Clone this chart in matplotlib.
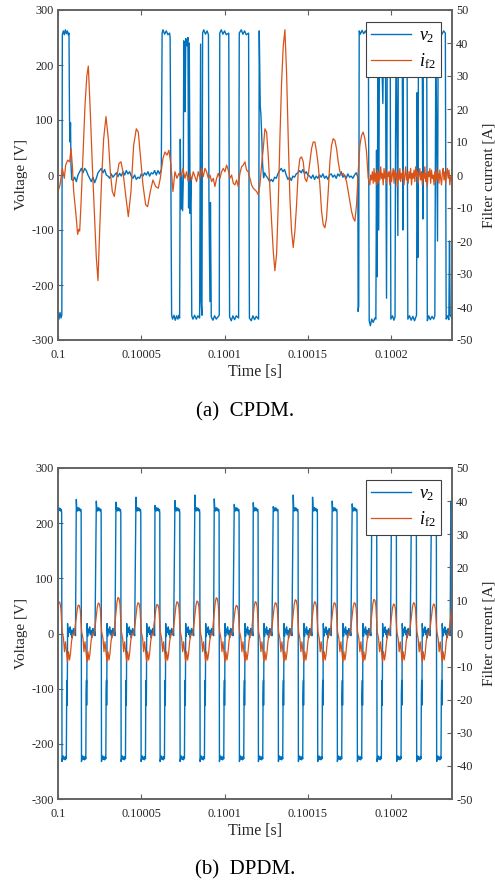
"""Filter voltage v2 and filter current if2 under CPDM and DPDM modulation."""
import matplotlib
matplotlib.use("Agg")
import matplotlib.pyplot as plt

plt.rcParams['font.family'] = ['Liberation Serif', 'DejaVu Serif']
plt.rcParams['mathtext.fontset'] = 'custom'
plt.rcParams['mathtext.rm'] = 'Liberation Serif'
plt.rcParams['mathtext.it'] = 'Liberation Serif:italic'

BLUE = '#0072BD'
ORANGE = '#D95319'
GREY = '#606060'

T_START = 0.1            # s
T_SPAN_US = 236.5        # visible window, microseconds

x_ticks = [0.1, 0.10005, 0.1001, 0.10015, 0.1002]
x_ticklabels = ['0.1', '0.10005', '0.1001', '0.10015', '0.1002']
v_ticks = [-300, -200, -100, 0, 100, 200, 300]
i_ticks = [-50, -40, -30, -20, -10, 0, 10, 20, 30, 40, 50]

# ---- (a) CPDM: v2 breakpoints (time in us after 0.1 s, volts) ----
cp_v2 = [
    (0, -252), (0.6, -262), (1.2, -250), (1.8, -260), (2.3, -254), (2.6, 255),
    (3.2, 262), (3.8, 255), (4.4, 264), (5.0, 257), (5.6, 262), (6.2, 255),
    (6.6, 258), (6.9, 105), (7.2, 60), (7.5, 95), (7.8, 20), (8.2, -8),
    (9, -10), (10, -4), (11, -12), (12, 0), (13, 6), (14, 12), (15, 4), (16, 12),
    (17, 8), (18, 0), (19, -6), (20, -12), (21, -4), (22, -14), (23, -6), (24, 4),
    (25, 8), (26, 12), (27, 4), (28, 10), (29, 0), (30, -2), (31, -6), (32, 2),
    (33, -4), (34, 0), (35, 4), (36, -3), (37, 3), (38, -2), (39, 6), (40, 0),
    (41, 8), (42, 2), (43, 6), (44, -2), (45, -6), (46, 0), (47, -8), (48, -4),
    (49, -6), (50, 2), (51, -2), (52, 4), (53, 0), (54, 6), (55, -2), (56, 4),
    (57, 2), (58, 8), (59, 0), (60, 8), (61, 2), (62, 10),
    (62.5, 258), (63, 264), (64, 256), (65, 262), (66, 255), (67, 258), (67.3, 250),
    (68.2, -255), (68.8, -262), (69.6, -255), (70.4, -264), (71.2, -256), (72, -262),
    (72.6, -255), (73.0, -260), (73.4, 65), (73.8, -62), (74.2, 0), (74.8, -65),
    (75.2, -10), (75.5, 244), (76.0, 230), (76.3, 115), (76.7, 248), (77.4, 235),
    (78.0, 250), (78.4, -60), (78.8, 240), (79.3, -70), (79.8, -5), (80.3, -256),
    (81, -262), (82, -255), (83, -262), (84, -256), (85, -260), (85.6, 238),
    (85.9, -230), (86.4, -255), (86.8, 258), (87.5, 264), (88.5, 256), (89.5, 262),
    (90.3, 255), (90.6, -40), (91.2, -230), (91.5, -50), (92, -258), (93, -264),
    (94, -256), (95, -262), (96, -258), (96.8, -255), (97.1, 258), (98, 264),
    (99, 256), (100, 262), (101, 255), (102.5, 258), (103.0, -258), (104, -265),
    (105, -256), (106, -263), (107, -256), (108.4, -260), (108.8, 258), (110, 264),
    (111, 256), (112, 262), (113, 255), (114.4, 258), (114.9, -260), (116, -265),
    (117, -256), (118, -263), (119, -257), (120.4, -262), (120.8, 262), (121.4, 125),
    (121.8, 110), (122.3, 70), (122.8, 20), (123.4, -5),
    (124, 4), (125, -2), (126, -6), (127, -12), (128, -8), (129, -12), (130, -4),
    (131, -6), (132, 2), (133, 8), (134, 12), (135, 6), (136, 10), (137, 0),
    (138, -8), (139, -4), (140, -10), (141, -2), (142, -4), (143, 2), (144, 4),
    (145, 8), (146, 4), (147, 10), (148, 2), (149, 6), (150, 0), (151, -2),
    (152, -6), (153, 0), (154, -8), (155, -2), (156, -6), (157, 0), (158, -4),
    (159, 2), (160, -6), (161, -2), (162, -8), (163, 0), (164, 2), (165, -4),
    (166, 0), (167, -6), (168, 2), (169, -2), (170, 6), (171, -4), (172, 0),
    (173, -6), (174, 2), (175, -4), (176, -2), (177, -6), (178, 0), (179, 4),
    (180.0, -4), (180.15, -248), (180.5, -238), (180.8, 262), (181.5, 256),
    (182.5, 263), (183.5, 257), (184.5, 262), (185.5, 256), (186.3, 250),
    (186.8, -265), (187.5, -274), (188.3, -262), (189.2, -268), (190.2, -260),
    (190.8, -262), (191.2, 45), (191.6, -185), (192.0, 190), (192.5, -100),
    (193.0, 262), (194.0, 255), (195.0, 130), (195.4, 252), (196.5, 258),
    (197.2, -224), (197.6, 210), (198.6, 256), (199.4, 250), (199.8, -262),
    (200.8, -256), (201.6, -264), (202.3, -258), (202.6, 60), (203.0, 262),
    (204.0, -110), (204.3, 258), (205.5, 262), (206.6, 255), (207.0, -100),
    (207.3, 250), (208.5, 262), (209.5, 258), (210.0, -262), (211.0, -256),
    (212.0, -264), (213.0, -257), (214.0, -265), (215.2, -255), (215.6, 150),
    (216.0, -150), (216.4, 260), (217.5, 255), (218.6, 262), (219.0, -80),
    (219.3, 258), (220.5, 262), (221.3, 255), (221.7, -265), (222.5, -256),
    (223.5, -263), (224.5, -257), (225.5, -262), (226.2, -256), (226.5, 0),
    (226.8, 260), (227.8, -120), (228.2, 255), (229.5, 262), (230.5, 256),
    (231.5, 262), (232.5, 258), (233.0, -262), (233.8, -256), (234.6, -263),
    (235.0, -120), (235.4, -255), (236.5, -260),
]

# ---- (a) CPDM: if2 (us, amps) ----
cp_if2 = [
    (0, -5), (1.2, -3), (2.6, 2), (3.8, -1), (4.6, 3), (5.8, 4.5), (7.0, 4),
    (7.8, 8), (8.6, 3), (9.4, -5), (10.6, -11), (11.8, -18), (12.4, -16.5),
    (13.0, -17), (13.8, -9), (15.0, 6), (16.2, 21), (17.3, 30), (18.2, 33),
    (19.4, 19), (20.6, 3), (21.8, -11), (23.0, -25), (24.0, -32), (25.0, -17),
    (26.2, -1), (27.4, 11), (28.8, 17.7), (30.2, 11), (31.4, 1), (32.6, -5),
    (33.8, -6.5), (35.2, -1), (36.6, 3.5), (37.8, 4), (39.0, 1), (40.6, -6),
    (42.2, -12.6), (43.8, -5), (45.4, 9), (47.0, 14), (48.2, 13), (49.4, 6),
    (51.0, -3), (52.6, -9), (53.8, -9.6), (55.4, -5), (57.0, -1.5), (58.6, -3.5),
    (60.2, -4), (61.4, -1), (63.0, 5), (64.2, 7), (65.4, 6), (66.6, 7.5),
    (67.8, 3), (69.0, -5), (70.2, 1), (71.4, -1), (72.6, 0.5), (73.8, -0.5),
    (75.0, 2), (76.2, -1), (77.2, 1), (78.2, -2), (79.2, 0.5), (80.2, -1.5),
    (81.2, 1), (82.2, -0.5), (83.2, -2), (84.2, 1), (85.2, -1), (86.2, 2),
    (87.2, -0.5), (88.2, 2), (89.2, 1), (90.2, -1), (91.2, 0), (92.2, -2),
    (93.2, -1), (94.2, -3.5), (95.2, -1), (96.2, 0.5), (97.2, -1), (98.2, 1),
    (99.2, 2), (100.2, 1), (101.2, 3), (102.2, 1.5), (103.2, -1), (104.2, 0),
    (105.2, -2.5), (106.2, -3), (107.2, -1.5), (108.2, -3.5), (109.2, 0.5),
    (110.2, 2.5), (111.2, 3), (112.2, 4), (113.2, 1.5), (114.2, 1), (115.2, -1),
    (116.2, -3), (117.2, -4), (118.2, -4.5), (119.2, -5), (120.2, -6),
    (121.2, -3), (122.2, 3), (123.2, 8), (124.2, 14), (125.2, 13), (126.2, 6),
    (127.2, -4), (128.2, -14), (129.2, -23), (130.2, -29), (131.2, -24),
    (132.2, -9), (133.2, 11), (134.2, 28), (135.2, 39), (136.2, 44), (137.2, 31),
    (138.2, 11), (139.2, -7), (140.2, -17), (141.2, -22), (142.2, -17),
    (143.2, -9), (144.2, 1), (145.2, 5), (146.2, 5.5), (147.2, 4), (148.2, -1),
    (149.2, -2), (150.2, 0), (151.2, 4), (152.2, 8), (153.2, 10), (154.2, 10),
    (155.2, 7), (156.2, 3), (157.2, -3), (158.2, -11), (159.2, -15), (160.2, -16),
    (161.2, -13), (162.2, -5), (163.2, 4), (164.2, 9), (165.2, 11), (166.2, 10.5),
    (167.2, 8), (168.2, 4), (169.2, 1), (170.2, 0), (171.2, 0.5), (172.2, -0.5),
    (173.2, -2), (174.2, -5), (175.2, -8), (176.2, -11), (177.2, -13),
    (178.2, -14), (179.2, -9), (180.2, 1), (181.2, 9), (182.2, 12), (183.2, 13),
    (184.2, 11), (185.2, 7), (186.2, -1), (187.2, -3), (187.7, 0), (188.2, -1.5),
    (188.7, 1), (189.2, -2.5), (189.7, 2), (190.2, -2), (190.7, 0.5), (191.2, -3),
    (191.7, 1.5), (192.2, -2.5), (192.7, 1), (193.2, -1.5), (193.7, 2.5),
    (194.2, -1), (194.7, 0.5), (195.2, -3), (195.7, 2), (196.2, -1), (196.7, 1.5),
    (197.2, -2.5), (197.7, 0.5), (198.2, -0.5), (198.7, 1), (199.2, -3),
    (199.7, 1.5), (200.2, -2), (200.7, 0), (201.2, 2), (201.7, -2.5), (202.2, 1.5),
    (202.7, -1), (203.2, 0.5), (203.7, -3.5), (204.2, 1), (204.7, -1.5),
    (205.2, 2), (205.7, -2), (206.2, 0.5), (206.7, -1), (207.2, 1.5), (207.7, -3),
    (208.2, 0), (208.7, 2.5), (209.2, -1.5), (209.7, 0.5), (210.2, -2.5),
    (210.7, 1), (211.2, -1), (211.7, 2), (212.2, -3), (212.7, 0.5), (213.2, -1),
    (213.7, 1.5), (214.2, -2), (214.7, 2.5), (215.2, -0.5), (215.7, 1),
    (216.2, -2.5), (216.7, 0), (217.2, 2), (217.7, -1.5), (218.2, 1), (218.7, -3),
    (219.2, 0.5), (219.7, -1), (220.2, 2.5), (220.7, -2), (221.2, 0.5),
    (221.7, -3.5), (222.2, 1), (222.7, -0.5), (223.2, 2), (223.7, -2.5),
    (224.2, 1.5), (224.7, -1), (225.2, 0), (225.7, -3), (226.2, 1), (226.7, -2),
    (227.2, 2), (227.7, -1.5), (228.2, 0.5), (228.7, -2.5), (229.2, 1.5),
    (229.7, -1), (230.2, -3), (230.7, 0.5), (231.2, 2), (231.7, -1.5), (232.2, 1),
    (232.7, -2.5), (233.2, 0.5), (233.7, 2), (234.2, -1), (234.7, 1.5),
    (235.2, -3), (235.7, -0.5), (236.5, -2),
]

# ---- (b) DPDM: one switching period, plus per-pulse values ----
dp_starts = [-0.7, 11.0, 23.0, 34.8, 46.8, 58.2, 70.2, 82.2, 93.8, 105.8, 117.2,
             129.2, 141.2, 152.8, 164.6, 176.6, 188.4, 200.2, 212.2, 224.2, 235.8]
dp_vpeak = [233, 243, 240, 238, 247, 232, 241, 251, 244, 234, 237,
            230, 251, 247, 240, 235, 240, 238, 242, 236, 240]
dp_ipeak = [9.6, 8.6, 9.2, 10.9, 9.3, 8.8, 9.6, 9.8, 10.8, 8.5, 9.6,
            9.3, 10.2, 9.6, 9.3, 9.3, 10.3, 8.9, 9.3, 8.9, 9.6]
# v2 over one period (offset us, volts); None = start-of-pulse overshoot
dp_v_off = [0.0, 0.3, 0.7, 1.1, 1.5, 1.9, 2.3, 2.7, 2.9, 3.1, 3.4, 3.8, 4.2, 4.6,
            5.0, 5.4, 5.7, 5.9, 6.1, 6.2, 6.3, 6.45, 6.8, 7.2, 7.6, 8.0, 8.4,
            8.8, 9.2, 9.6, 10.0, 10.4, 10.8, 11.2]
dp_v_val = [None, 225, 222, 228, 223, 227, 222, 225, 218, -232, -226, -222, -228,
            -224, -229, -223, -227, -110, -85, -130, -95, 18, -5, 8, 2, 12, -2,
            6, -8, 4, 9, 0, 6, -4]
# if2 over one period (offset us, amps), positive lobe peaks at 8.6 A
dp_i_off = [-0.6, 0.0, 0.6, 1.2, 1.8, 2.4, 2.8, 3.2, 3.6, 4.0, 4.6, 5.2, 5.8,
            6.4, 7.0, 7.6, 8.2, 8.8, 9.6, 10.4]
dp_i_val = [2.5, 5.0, 7.5, 8.6, 8.4, 7.0, 3.5, 0.5, -0.5, -1.5, -5.5, -2.5,
            -5.5, -8.5, -5.5, -8.0, -6.0, -2.5, 0.0, -0.5]


def to_seconds(us_list):
    return [T_START + u * 1e-6 for u in us_list]


def build_dpdm():
    tv, vv, ti, ii = [], [], [], []
    for k, t0 in enumerate(dp_starts):
        nxt = dp_starts[k + 1] if k + 1 < len(dp_starts) else 1e9
        for off, val in zip(dp_v_off, dp_v_val):
            if t0 + off < nxt - 0.1:
                tv.append(t0 + off)
                vv.append(dp_vpeak[k] if val is None else val)
        for off, val in zip(dp_i_off, dp_i_val):
            t = t0 + off
            if (k == 0 or t > dp_starts[k - 1] + 10.8) and t < nxt - 0.7:
                ti.append(t)
                ii.append(val * dp_ipeak[k] / 8.6 if val > 0 else val)
    return tv, vv, ti, ii


def panel(fig, rect, tv, vv, ti, ii, caption, cap_y):
    ax = fig.add_axes(rect)
    ax2 = ax.twinx()
    l1, = ax.plot(to_seconds(tv), vv, color=BLUE, lw=1.0)
    l2, = ax2.plot(to_seconds(ti), ii, color=ORANGE, lw=0.9)

    ax.set_xlim(T_START, T_START + T_SPAN_US * 1e-6)
    ax.set_ylim(-300, 300)
    ax2.set_ylim(-50, 50)
    ax.set_xticks(x_ticks)
    ax.set_xticklabels(x_ticklabels)
    ax.set_yticks(v_ticks)
    ax.set_yticklabels([str(v) for v in v_ticks])
    ax2.set_yticks(i_ticks)
    ax2.set_yticklabels([str(v) for v in i_ticks])

    for a in (ax, ax2):
        for sp in a.spines.values():
            sp.set_color(GREY)
            sp.set_linewidth(1.1)
        a.tick_params(direction='in', length=3.5, width=0.8, color=GREY,
                      labelsize=8.8, labelcolor='#262626', pad=3)
    ax.tick_params(axis='x', top=True, pad=6.5)
    ax.tick_params(axis='y', right=False)

    ax.set_xlabel('Time [s]', fontsize=11.5, color='#262626', labelpad=2)
    ax.set_ylabel('Voltage [V]', fontsize=11, color='#262626', labelpad=2)
    ax2.set_ylabel('Filter current [A]', fontsize=11, color='#262626', labelpad=7)

    leg = ax2.legend([l1, l2], [r'$v_{2}$', r'$i_{\mathrm{f2}}$'],
                     loc='upper right', bbox_to_anchor=(1 - 11 / 394, 1 - 12 / 330),
                     borderaxespad=0, fancybox=False, framealpha=1, fontsize=13,
                     handlelength=2.2, handletextpad=0.45, borderpad=0.3,
                     labelspacing=0.35)
    leg.get_frame().set_edgecolor('#404040')
    leg.get_frame().set_linewidth(0.8)

    fig.text(0.495, cap_y, caption, ha='center', va='center', fontsize=15)


fig = plt.figure(figsize=(4.95, 8.82), dpi=100)
panel(fig, [58 / 495, 1 - 340 / 882, 394 / 495, 330 / 882],
      [p[0] for p in cp_v2], [p[1] for p in cp_v2],
      [p[0] for p in cp_if2], [p[1] for p in cp_if2],
      '(a)  CPDM.', 1 - 412 / 882)
dtv, dvv, dti, dii = build_dpdm()
panel(fig, [58 / 495, 1 - 799 / 882, 394 / 495, 331 / 882],
      dtv, dvv, dti, dii, '(b)  DPDM.', 1 - 870 / 882)

fig.savefig('out.png', dpi=100)
